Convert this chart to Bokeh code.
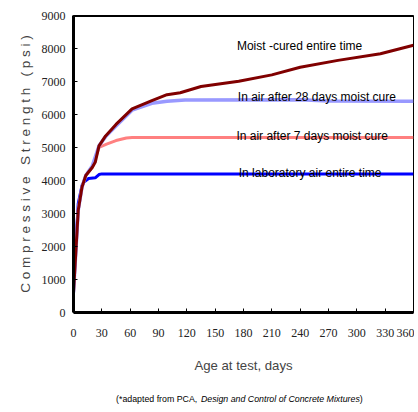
from bokeh.plotting import figure
from bokeh.models import Range1d, FixedTicker, Span, Label
from bokeh.layouts import column
from bokeh.core.properties import value
from bokeh.embed import file_html
from bokeh.resources import INLINE

# ---- data ----
moist_days = [0, 5, 9, 13, 20, 23, 27, 34, 45, 62, 83, 99, 113, 135, 175, 210, 240, 280, 325, 360]
moist_psi = [600, 3100, 3800, 4150, 4400, 4550, 5050, 5350, 5700, 6170, 6420, 6600, 6660, 6850, 7010, 7200, 7430, 7640, 7840, 8100]

air28_days = [0, 5, 9, 13, 20, 27, 34, 45, 62, 83, 99, 118, 240, 270, 360]
air28_psi = [600, 3100, 3800, 4150, 4450, 5050, 5330, 5650, 6130, 6340, 6400, 6440, 6450, 6410, 6400]

air7_days = [0, 5, 9, 13, 20, 27, 35, 45, 56, 62, 360]
air7_psi = [600, 3100, 3800, 4150, 4400, 5000, 5100, 5210, 5290, 5300, 5300]

lab_days = [0, 5, 9, 11, 16, 23, 27, 30, 360]
lab_psi = [800, 3300, 3850, 3950, 4060, 4080, 4180, 4200, 4200]

x_ticks = [0, 30, 60, 90, 120, 150, 180, 210, 240, 270, 300, 330, 360]
y_ticks = [0, 1000, 2000, 3000, 4000, 5000, 6000, 7000, 8000, 9000]

series_labels = ["Moist -cured entire time", "In air after 28 days moist cure",
                 "In air after 7 days moist cure", "In laboratory air entire time"]

foot_parts = ["(*adapted from PCA,", "Design and Control of Concrete Mixtures", ")"]

SANS = "Liberation Sans"
SERIF = "Liberation Serif"

p = figure(width=414, height=388, output_backend="svg", toolbar_location=None,
           x_range=Range1d(0, 360), y_range=Range1d(0, 9000),
           min_border_left=73, min_border_top=15, min_border_right=1, min_border_bottom=76)

p.background_fill_color = "white"
p.border_fill_color = "white"
p.outline_line_color = "black"
p.outline_line_width = 1
p.grid.visible = False

for ax in (p.xaxis[0], p.yaxis[0]):
    ax.axis_line_width = 3
    ax.axis_line_color = "black"
    ax.major_tick_in = 4
    ax.major_tick_out = 0
    ax.minor_tick_line_color = None
    ax.major_tick_line_color = "black"
    ax.major_label_text_font = SERIF
    ax.major_label_text_font_size = "12px"
    ax.major_label_text_color = "#222222"

p.xaxis.ticker = FixedTicker(ticks=x_ticks)
p.yaxis.ticker = FixedTicker(ticks=y_ticks)
p.xaxis.major_label_standoff = 16
p.yaxis.major_label_standoff = 8

p.xaxis.axis_label = "Age at test, days"
p.xaxis.axis_label_text_font = SANS
p.xaxis.axis_label_text_font_size = "13.2px"
p.xaxis.axis_label_text_font_style = "normal"
p.xaxis.axis_label_standoff = 18

nb = "\u00a0"
ylab = (nb * 3).join(nb.join(list(w)) for w in ["Compressive", "Strength", "(psi)"])
p.yaxis.axis_label = ylab
p.yaxis.axis_label_text_font = SANS
p.yaxis.axis_label_text_font_size = "13.5px"
p.yaxis.axis_label_text_font_style = "normal"
p.yaxis.axis_label_standoff = 6

p.add_layout(Span(location=9000, dimension="width", line_color="black", line_width=3))

p.line(lab_days, lab_psi, line_color="#0000ff", line_width=3)
p.line(air7_days, air7_psi, line_color="#ff8080", line_width=3)
p.line(air28_days, air28_psi, line_color="#9999ff", line_width=3.5)
p.line(moist_days, moist_psi, line_color="#800000", line_width=3)

label_pos = [(173, 8090), (174, 6545), (172.5, 5360), (175, 4220)]
for txt, (lx, ly) in zip(series_labels, label_pos):
    p.add_layout(Label(x=lx, y=ly, text=txt, text_font=SANS, text_font_size="12px",
                       text_baseline="alphabetic", text_align="left", text_color="black"))

# footnote strip below the chart, sharing the chart's x scale
f = figure(width=414, height=20, output_backend="svg", toolbar_location=None,
           x_range=p.x_range, y_range=Range1d(0, 20),
           min_border_left=73, min_border_right=1, min_border_top=0, min_border_bottom=0)
f.axis.visible = False
f.grid.visible = False
f.outline_line_color = None
f.background_fill_color = "white"
f.border_fill_color = "white"
f.text(x=[131], y=[10], text=[foot_parts[0]], text_font=value(SANS), text_font_size="8.8px",
       text_align="right", text_baseline="middle", text_color="black")
f.text(x=[219], y=[10], text=[foot_parts[1]], text_font=value(SANS), text_font_size="8.8px",
       text_font_style="italic", text_align="center", text_baseline="middle", text_color="black")
f.text(x=[303], y=[10], text=[foot_parts[2]], text_font=value(SANS), text_font_size="8.8px",
       text_align="left", text_baseline="middle", text_color="black")

layout = column(p, f, spacing=0)
open("out.html", "w").write(file_html(layout, INLINE))
